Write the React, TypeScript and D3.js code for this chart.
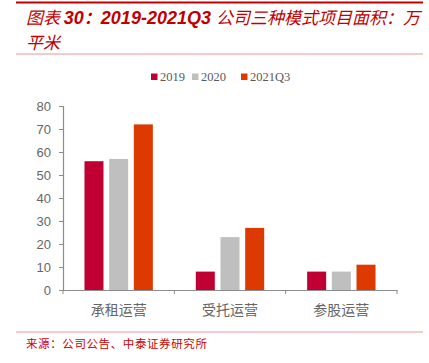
import { useEffect, useRef } from "react";
import * as d3 from "d3";

const categories = ["承租运营", "受托运营", "参股运营"];
const seriesNames = ["2019", "2020", "2021Q3"];
const values2019 = [56, 8, 8];
const values2020 = [57, 23, 8];
const values2021Q3 = [72, 27, 11];
const seriesColors = ["#C00032", "#BFBFBF", "#DC3A00"];
const yTicks = [0, 10, 20, 30, 40, 50, 60, 70, 80];

const WIDTH = 429;
const HEIGHT = 363;
const PLOT = { left: 63, right: 397, top: 106, bottom: 290 };

const App = () => {
    const axesRef = useRef(null);
    const allValues = [values2019, values2020, values2021Q3];

    const xScale = d3.scaleBand().domain(categories).range([PLOT.left, PLOT.right]).padding(0);
    const innerScale = d3
        .scaleBand()
        .domain(seriesNames)
        .range([0, xScale.bandwidth()])
        .paddingInner(0.23)
        .paddingOuter(0.87);
    const yScale = d3.scaleLinear().domain([0, 80]).range([PLOT.bottom, PLOT.top]);

    // axes drawn with d3
    useEffect(() => {
        const g = d3.select(axesRef.current);
        g.selectAll("*").remove();

        const yAxis = g
            .append("g")
            .attr("transform", `translate(${PLOT.left},0)`)
            .call(d3.axisLeft(yScale).tickValues(yTicks).tickSize(4).tickPadding(8));
        yAxis.select(".domain").attr("stroke", "#8C8C8C").attr("stroke-width", 1.2);
        yAxis.selectAll(".tick line").attr("stroke", "#8C8C8C");
        yAxis
            .selectAll(".tick text")
            .attr("fill", "#666666")
            .attr("font-size", 13)
            .attr("font-family", "Liberation Sans, Arial, sans-serif");

        const xAxis = g
            .append("g")
            .attr("transform", `translate(0,${PLOT.bottom})`)
            .call(d3.axisBottom(xScale).tickSize(0).tickPadding(15));
        xAxis.select(".domain").attr("stroke", "#8C8C8C").attr("stroke-width", 1.2);
        xAxis
            .selectAll(".tick text")
            .attr("fill", "#666666")
            .attr("font-size", 14)
            .attr("font-family", "Noto Sans CJK SC, sans-serif");
        // category boundary ticks
        const bounds = [...categories.map((c) => xScale(c) as number), PLOT.right];
        xAxis
            .selectAll("line.bound")
            .data(bounds)
            .enter()
            .append("line")
            .attr("class", "bound")
            .attr("x1", (d) => d)
            .attr("x2", (d) => d)
            .attr("y1", 0)
            .attr("y2", 4)
            .attr("stroke", "#8C8C8C");
    }, []);

    const bars = categories.map((cat, ci) =>
        seriesNames.map((s, si) => {
            const v = allValues[si][ci];
            return (
                <rect
                    key={cat + s}
                    x={(xScale(cat) as number) + (innerScale(s) as number)}
                    y={yScale(v)}
                    width={innerScale.bandwidth()}
                    height={PLOT.bottom - yScale(v)}
                    fill={seriesColors[si]}
                />
            );
        })
    );

    // legend positions
    const legendX = [151, 192, 241];

    return (
        <svg
            width={WIDTH}
            height={HEIGHT}
            style={{ position: "absolute", left: 0, top: 0, background: "white" }}
        >
            <line x1={16} x2={423} y1={2.5} y2={2.5} stroke="#C00000" strokeWidth={2} />
            <text x={26} y={24} fill="#C00000" fontSize={17} fontStyle="italic">
                <tspan fontFamily="Noto Sans CJK SC, sans-serif">图表 </tspan>
                <tspan fontFamily="Liberation Sans, Arial, sans-serif" fontWeight="bold" fontSize={18}>
                    30
                </tspan>
                <tspan fontFamily="Noto Sans CJK SC, sans-serif" fontWeight="bold">
                    ：
                </tspan>
                <tspan fontFamily="Liberation Sans, Arial, sans-serif" fontWeight="bold" fontSize={18}>
                    {"2019-2021Q3 "}
                </tspan>
                <tspan fontFamily="Noto Sans CJK SC, sans-serif">公司三种模式项目面积：万</tspan>
            </text>
            <text x={26} y={49} fill="#C00000" fontSize={17} fontStyle="italic" fontFamily="Noto Sans CJK SC, sans-serif">
                平米
            </text>
            <line x1={16} x2={423} y1={54} y2={54} stroke="#F2B8B8" strokeWidth={1.5} />

            {seriesNames.map((s, i) => (
                <g key={s} transform={`translate(${legendX[i]},77)`}>
                    <rect x={0} y={-3.5} width={6.5} height={6.5} fill={seriesColors[i]} />
                    <text
                        x={9}
                        y={4}
                        fontSize={12.5}
                        fill="#595959"
                        fontFamily="Liberation Serif, Times New Roman, serif"
                    >
                        {s}
                    </text>
                </g>
            ))}

            <g>{bars}</g>
            <g ref={axesRef} />

            <line x1={16} x2={423} y1={332} y2={332} stroke="#F2B8B8" strokeWidth={1.5} />
            <text
                x={26}
                y={348}
                fill="#D00000"
                fontSize={11.5}
                letterSpacing={0.6}
                fontFamily="Noto Sans CJK SC, sans-serif"
            >
                来源：公司公告、中泰证券研究所
            </text>
        </svg>
    );
};

export default App;
